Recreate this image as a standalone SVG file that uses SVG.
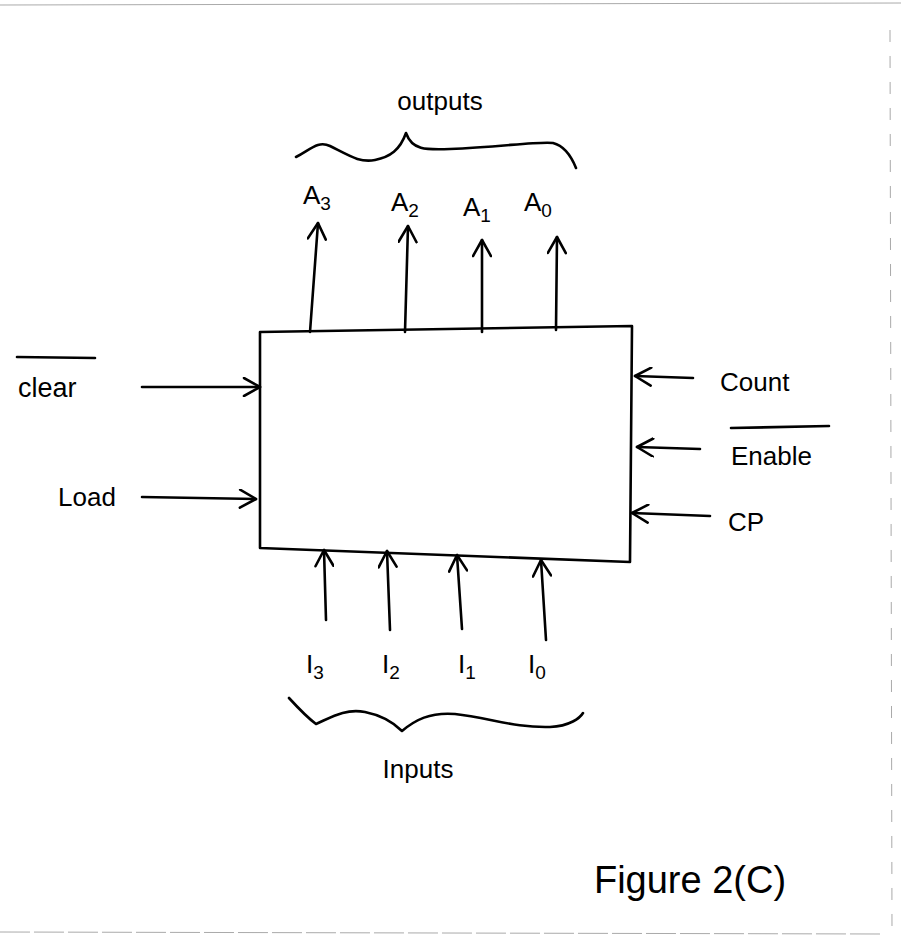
<svg xmlns="http://www.w3.org/2000/svg" width="901" height="951" viewBox="0 0 901 951">
<style>
.t{font-family:"Liberation Sans",Arial,sans-serif;fill:#000;}
.s{font-size:26px;}
.sub{font-size:19px;}
.ln{stroke:#000;stroke-width:2.6;fill:none;stroke-linecap:round;stroke-linejoin:round;}
.pg{stroke:#aaa;stroke-width:1;fill:none;}
</style>
<defs>
<marker id="ah" viewBox="0 0 20 20" refX="18" refY="10" markerWidth="20" markerHeight="20" markerUnits="userSpaceOnUse" orient="auto">
<path d="M2,1 L18,10 L2,19" fill="none" stroke="#000" stroke-width="2.6" stroke-linecap="round" stroke-linejoin="round"/>
</marker>
</defs>
<rect width="901" height="951" fill="#fff"/>
<line class="pg" x1="0" y1="5" x2="901" y2="3"/>
<line class="pg" x1="0" y1="932" x2="880" y2="934" stroke-dasharray="30 4"/>
<line class="pg" x1="890" y1="30" x2="892" y2="930" stroke-dasharray="12 14"/>
<g id="counter">
<path class="ln" d="M260,332 L632,326 L630,562 L260,548 Z"/>
</g>
<g id="connectors">
<line class="ln" x1="310" y1="332" x2="318" y2="223" marker-end="url(#ah)"/>
<line class="ln" x1="405" y1="332" x2="408" y2="226" marker-end="url(#ah)"/>
<line class="ln" x1="482" y1="332" x2="482" y2="240" marker-end="url(#ah)"/>
<line class="ln" x1="556" y1="330" x2="557" y2="237" marker-end="url(#ah)"/>
<line class="ln" x1="142" y1="387" x2="260" y2="387" marker-end="url(#ah)"/>
<line class="ln" x1="142" y1="497" x2="256" y2="499" marker-end="url(#ah)"/>
<line class="ln" x1="693" y1="378" x2="635" y2="376" marker-end="url(#ah)"/>
<line class="ln" x1="700" y1="449" x2="637" y2="447" marker-end="url(#ah)"/>
<line class="ln" x1="710" y1="516" x2="632" y2="513" marker-end="url(#ah)"/>
<line class="ln" x1="326" y1="620" x2="324" y2="550" marker-end="url(#ah)"/>
<line class="ln" x1="390" y1="630" x2="387" y2="551" marker-end="url(#ah)"/>
<line class="ln" x1="462" y1="629" x2="457" y2="555" marker-end="url(#ah)"/>
<line class="ln" x1="546" y1="640" x2="541" y2="560" marker-end="url(#ah)"/>
</g>
<g id="outputs-brace">
<path class="ln" d="M296,157 C310,150 318,140 330,146 C350,156 360,163 375,160 C390,157 400,150 406,133 C412,150 425,150 450,149 C500,147 540,141 553,143 C565,146 572,158 576,168"/>
<text class="t s" x="440" y="110" text-anchor="middle">outputs</text>
</g>
<g id="labels-A">
<text class="t s" x="303" y="204">A<tspan class="sub" dy="6">3</tspan></text>
<text class="t s" x="391" y="211">A<tspan class="sub" dy="6">2</tspan></text>
<text class="t s" x="463" y="216">A<tspan class="sub" dy="6">1</tspan></text>
<text class="t s" x="524" y="211">A<tspan class="sub" dy="6">0</tspan></text>
</g>
<g id="label-clear">
<line class="ln" x1="17" y1="357" x2="95" y2="358" stroke-width="2"/>
<text class="t" font-size="27" x="18" y="397">clear</text>
</g>
<g id="label-load">
<text class="t s" x="58" y="506">Load</text>
</g>
<g id="label-count">
<text class="t s" x="720" y="391">Count</text>
</g>
<g id="label-enable">
<line class="ln" x1="731" y1="428" x2="829" y2="426" stroke-width="2"/>
<text class="t s" x="731" y="465">Enable</text>
</g>
<g id="label-cp">
<text class="t s" x="728" y="531">CP</text>
</g>
<g id="labels-I">
<text class="t s" x="306" y="673">I<tspan class="sub" dy="6">3</tspan></text>
<text class="t s" x="382" y="673">I<tspan class="sub" dy="6">2</tspan></text>
<text class="t s" x="458" y="673">I<tspan class="sub" dy="6">1</tspan></text>
<text class="t s" x="528" y="673">I<tspan class="sub" dy="6">0</tspan></text>
</g>
<g id="inputs-brace">
<path class="ln" d="M289,698 C300,710 308,718 316,724 C330,718 345,708 365,712 C385,716 395,724 402,731 C415,720 430,712 455,714 C490,718 515,728 550,727 C570,726 580,718 583,713"/>
<text class="t s" x="418" y="778" text-anchor="middle">Inputs</text>
</g>
<g id="caption">
<text class="t" x="690" y="893" font-size="38" text-anchor="middle">Figure 2(C)</text>
</g>
</svg>
